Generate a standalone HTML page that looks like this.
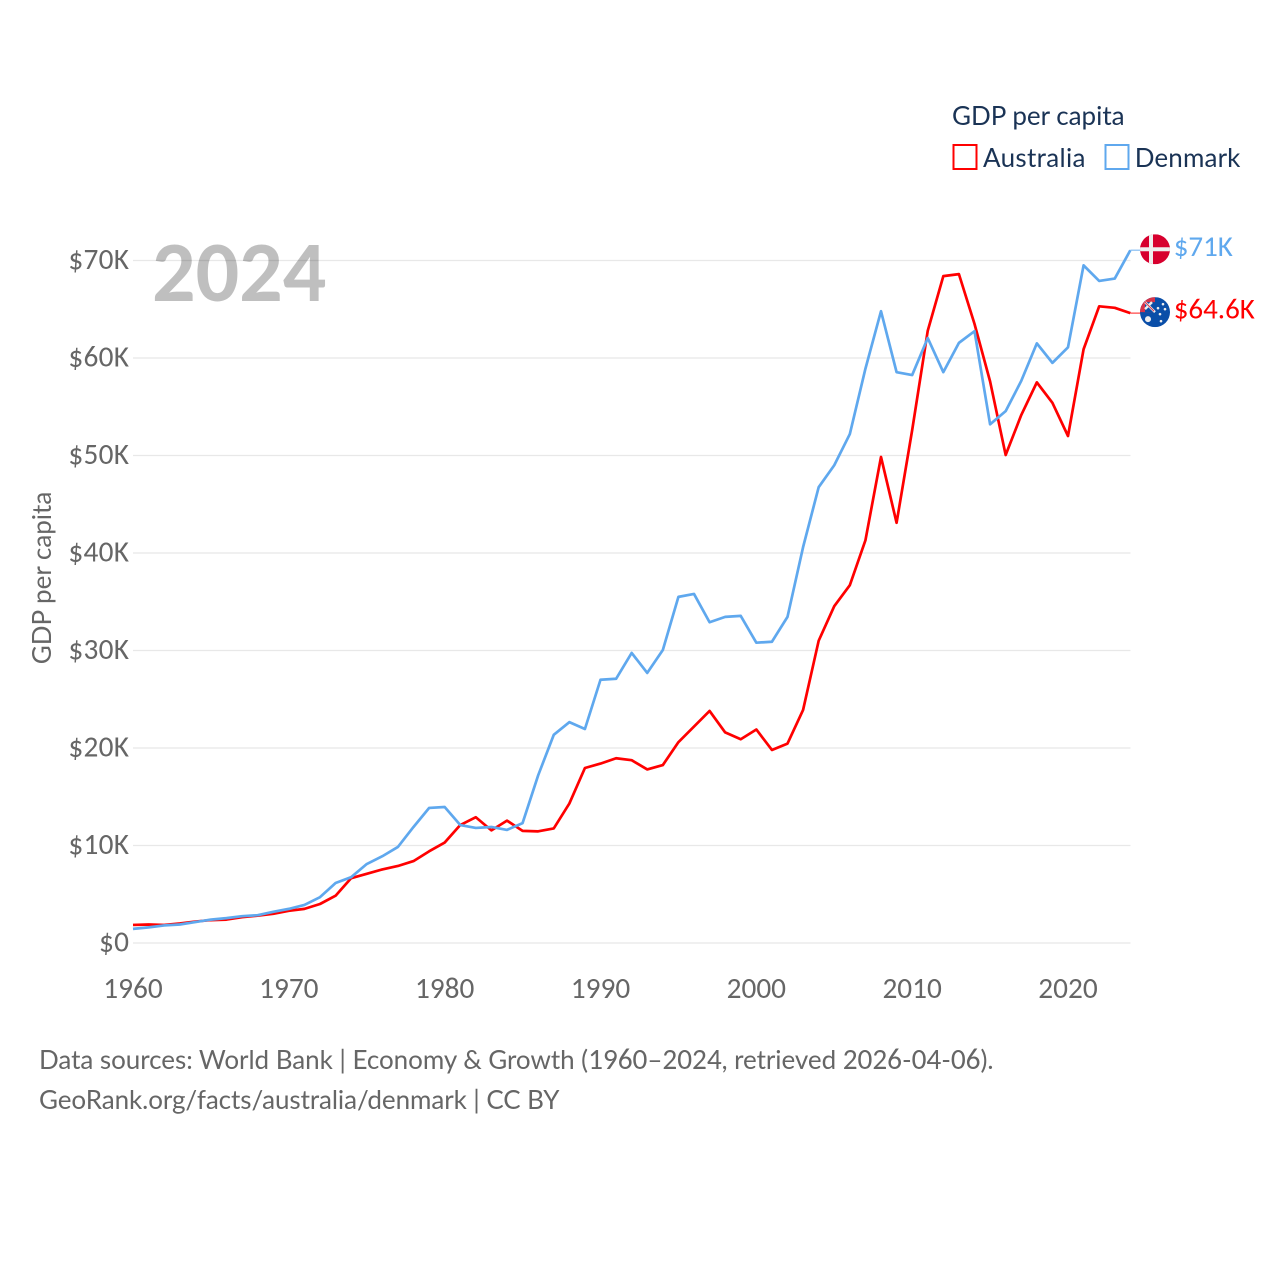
<!DOCTYPE html>
<html lang="en">
<head>
<meta charset="utf-8">
<title>GDP per capita: Australia vs Denmark</title>
<style>
html,body{margin:0;padding:0;background:#fff;}
svg{display:block;}
text{font-family:"Lato","Carlito","Liberation Sans",sans-serif;}
.num, .num text, tspan.num{font-family:"Carlito","Lato","Liberation Sans",sans-serif;}
tspan.num{font-size:29.3px;}
</style>
</head>
<body>
<svg id="chart" xmlns="http://www.w3.org/2000/svg" width="1280" height="1280" viewBox="0 0 1280 1280">
  <defs>
    <clipPath id="clip-dk"><circle cx="0" cy="0" r="15"/></clipPath>
    <clipPath id="clip-au"><circle cx="0" cy="0" r="15"/></clipPath>
  </defs>
  <g id="grid"></g>
  <g id="yticks"></g>
  <g id="xticks"></g>
  <text class="num" x="152" y="301" font-size="86" font-weight="700" fill="#000" fill-opacity="0.25">2024</text>
  <text transform="translate(51,578) rotate(-90)" text-anchor="middle" font-size="26" fill="#666">GDP per capita</text>
  <g id="series"></g>

  <g id="flag-dk">
    <g clip-path="url(#clip-dk)">
      <rect x="-15" y="-15" width="30" height="30" fill="#d7002e"/>
      <rect x="-15" y="-2" width="30" height="4" fill="#eee"/>
      <rect x="-6" y="-15" width="4" height="30" fill="#eee"/>
    </g>
  </g>
  <g id="flag-au">
    <g clip-path="url(#clip-au)">
      <rect x="-15" y="-15" width="30" height="30" fill="#0a4ea8"/>
      <rect x="-15" y="-15" width="15" height="15" fill="#d7344a"/>
      <rect x="-10" y="-10" width="10" height="10" fill="#0a4ea8"/>
      <path d="M-10,-10 L0,0 M-10,-3 L-3,-10" stroke="#eee" stroke-width="2.4" fill="none"/>
      <path d="M-10,-10 L-1,-1" stroke="#d7344a" stroke-width="1" fill="none"/>
      <circle cx="-7" cy="7" r="3" fill="#eee"/>
      <circle cx="3" cy="-4" r="1.3" fill="#eee"/>
      <circle cx="8" cy="-8" r="1.3" fill="#eee"/>
      <circle cx="10" cy="-3" r="1.3" fill="#eee"/>
      <circle cx="5" cy="2" r="1.3" fill="#eee"/>
      <circle cx="6" cy="9" r="1.3" fill="#eee"/>
    </g>
  </g>
  <g id="end-labels"></g>

  <g>
    <text x="952" y="125" font-size="26" fill="#1a3355">GDP per capita</text>
    <g>
      <rect x="953.5" y="145" width="23" height="24" fill="#fff" stroke="#ff0000" stroke-width="2"/>
      <text x="983" y="167" font-size="26" letter-spacing="0.33" fill="#1a3355">Australia</text>
    </g>
    <g>
      <rect x="1105.5" y="145" width="23" height="24" fill="#fff" stroke="#5fa8ee" stroke-width="2"/>
      <text x="1134.7" y="167" font-size="26" letter-spacing="0.15" fill="#1a3355">Denmark</text>
    </g>
  </g>

  <g font-size="26" fill="#666">
    <text x="39" y="1069" letter-spacing="-0.04">Data sources: World Bank | Economy &amp; Growth (<tspan class="num">1960</tspan>–<tspan class="num">2024</tspan>, retrieved <tspan class="num">2026</tspan>-<tspan class="num">04</tspan>-<tspan class="num">06</tspan>).</text>
    <text x="39" y="1109" letter-spacing="-0.07">GeoRank.org/facts/australia/denmark | CC BY</text>
  </g>
</svg>
<script>
var startYear = 1960;
var xTickYears = [1960, 1970, 1980, 1990, 2000, 2010, 2020];
var yTickValues = [0, 10, 20, 30, 40, 50, 60, 70];
var yTickLabels = ['$0', '$10K', '$20K', '$30K', '$40K', '$50K', '$60K', '$70K'];
var australiaValues = [1.85,1.9,1.85,2.0,2.2,2.35,2.4,2.65,2.8,3.0,3.3,3.5,4.0,4.85,6.65,7.1,7.55,7.9,8.4,9.4,10.3,12.1,12.9,11.55,12.55,11.5,11.45,11.75,14.3,17.95,18.4,18.95,18.75,17.8,18.25,20.6,22.2,23.8,21.6,20.9,21.9,19.8,20.45,23.9,31.0,34.55,36.7,41.3,49.85,43.1,52.6,62.8,68.4,68.6,63.5,57.6,50.05,54.15,57.5,55.4,52.0,60.9,65.3,65.15,64.6];
var denmarkValues = [1.45,1.6,1.8,1.9,2.15,2.4,2.55,2.75,2.85,3.2,3.5,3.9,4.7,6.15,6.75,8.1,8.9,9.85,11.9,13.85,13.95,12.1,11.8,11.9,11.6,12.3,17.2,21.35,22.65,21.95,27.0,27.1,29.75,27.7,30.05,35.5,35.8,32.9,33.45,33.55,30.8,30.9,33.45,40.6,46.75,49.0,52.2,58.9,64.8,58.55,58.25,62.05,58.55,61.55,62.75,53.2,54.55,57.65,61.5,59.5,61.1,69.5,67.9,68.15,71.05];
var australiaEndLabel = '$64.6K';
var denmarkEndLabel = '$71K';

var NS = 'http://www.w3.org/2000/svg';
function xScale(year) { return 133 + (year - 1960) * (935 / 60); }
function yScale(v) { return 943 - v * (682.5 / 70); }
function make(tag, parent, attrs) {
  var el = document.createElementNS(NS, tag);
  for (var k in attrs) el.setAttribute(k, attrs[k]);
  parent.appendChild(el);
  return el;
}
var grid = document.getElementById('grid');
var yticks = document.getElementById('yticks');
var xticks = document.getElementById('xticks');
yTickValues.forEach(function (v, i) {
  var line = make('line', grid, {x1: 133, x2: 1130.5, y1: yScale(v), y2: yScale(v), stroke: '#e8e8e8', 'stroke-width': 1.2});
  
  
  var t = make('text', yticks, {'class': 'num', x: 129.3, y: yScale(v) + 8.6, 'text-anchor': 'end', 'font-size': 29.3, 'letter-spacing': 0.3, fill: '#666'});
  t.textContent = yTickLabels[i];
  
  
});
xTickYears.forEach(function (year) {
  var t = make('text', xticks, {'class': 'num', x: xScale(year), y: 998, 'text-anchor': 'middle', 'font-size': 29.3, fill: '#666'});
  t.textContent = year;
  
  
});
function drawSeries(values, color, name, flagId, label, labelDy) {
  var series = document.getElementById('series');
  var pts = values.map(function (v, i) {
    return xScale(startYear + i).toFixed(2) + ',' + yScale(v).toFixed(2);
  });
  var lastV = values[values.length - 1];
  var lastY = yScale(lastV);
  var lastX = xScale(startYear + values.length - 1);
  var path = make('polyline', series, {points: pts.join(' '), fill: 'none', stroke: color, 'stroke-width': 2.7, 'stroke-linejoin': 'round'});
  
  
  var conn = make('line', series, {x1: lastX, x2: 1141, y1: lastY, y2: lastY, stroke: color, 'stroke-width': 1.5, opacity: 0.6});
  
  
  document.getElementById(flagId).setAttribute('transform', 'translate(1155,' + (lastY - 1) + ')');
  var t = make('text', document.getElementById('end-labels'), {'class': 'num', x: 1173.7, y: lastY + labelDy, 'font-size': 29, fill: color});
  t.textContent = label;
  
  
}
drawSeries(australiaValues, '#ff0000', 'australia', 'flag-au', australiaEndLabel, 5.5);
drawSeries(denmarkValues, '#5fa8ee', 'denmark', 'flag-dk', denmarkEndLabel, 5.5);
</script>
</body>
</html>
